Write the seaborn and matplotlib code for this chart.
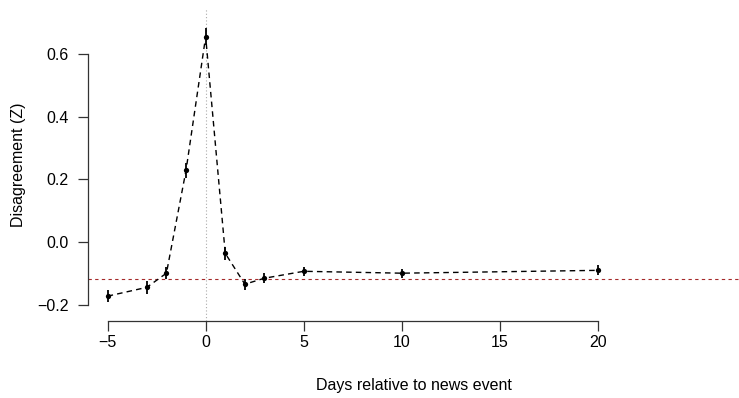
import matplotlib
matplotlib.use("Agg")
import matplotlib.pyplot as plt
import seaborn as sns
import pandas as pd

# Event-study estimates
days = [-5, -3, -2, -1, 0, 1, 2, 3, 5, 10, 20]
disagreement = [-0.171, -0.143, -0.098, 0.229, 0.654, -0.035, -0.133, -0.114, -0.092, -0.098, -0.089]
std_err = [0.020, 0.020, 0.020, 0.024, 0.028, 0.020, 0.018, 0.016, 0.014, 0.014, 0.016]
baseline = -0.117

x_ticks = [-5, 0, 5, 10, 15, 20]
x_labels = ["\u22125", "0", "5", "10", "15", "20"]
y_ticks = [-0.2, 0.0, 0.2, 0.4, 0.6]
y_labels = ["\u22120.2", "0.0", "0.2", "0.4", "0.6"]

df = pd.DataFrame({"day": days, "z": disagreement, "se": std_err})

sns.set_style("white")
plt.rcParams["font.family"] = ["Liberation Sans", "DejaVu Sans"]
plt.rcParams["text.color"] = "black"
plt.rcParams["axes.labelcolor"] = "black"
plt.rcParams["xtick.labelcolor"] = "black"
plt.rcParams["ytick.labelcolor"] = "black"

fig = plt.figure(figsize=(7.39, 3.98), dpi=100)
ax = fig.add_axes([88 / 739, 1 - 321 / 398, 1 - 88 / 739, 313 / 398])

# reference lines: event day and baseline level
ax.axvline(0, color="#aaaaaa", linestyle=(0, (1, 2)), linewidth=0.8, zorder=1)
ax.axhline(baseline, color="#a52a2a", linestyle=(0, (3, 3)), linewidth=0.8, zorder=1)

sns.lineplot(data=df, x="day", y="z", ax=ax, color="black", linestyle=(0, (4, 3)),
             linewidth=1.0, marker="o", markersize=3.8, markeredgewidth=0, zorder=3)
ax.errorbar(df["day"], df["z"], yerr=df["se"], fmt="none",
            ecolor="black", elinewidth=1.3, capsize=0, zorder=3)

ax.set_xlim(-6, 27.2)
ax.set_ylim(-0.25, 0.745)

ax.set_xticks(x_ticks)
ax.set_xticklabels(x_labels)
ax.set_yticks(y_ticks)
ax.set_yticklabels(y_labels)

for s in ["top", "right"]:
    ax.spines[s].set_visible(False)
ax.spines["bottom"].set_bounds(-5, 20)
ax.spines["left"].set_bounds(-0.2, 0.6)
for s in ["bottom", "left"]:
    ax.spines[s].set_color("#333333")
    ax.spines[s].set_linewidth(0.9)

ax.tick_params(axis="both", direction="out", length=7, width=0.9, color="#333333",
               labelsize=11.5, labelcolor="black", bottom=True, left=True)
ax.tick_params(axis="x", pad=3)
ax.tick_params(axis="y", pad=7)

ax.set_xlabel("Days relative to news event", fontsize=11.5, labelpad=20, color="black")
ax.set_ylabel("Disagreement (Z)", fontsize=11.5, labelpad=8, color="black")

fig.savefig("out.png", dpi=100)
